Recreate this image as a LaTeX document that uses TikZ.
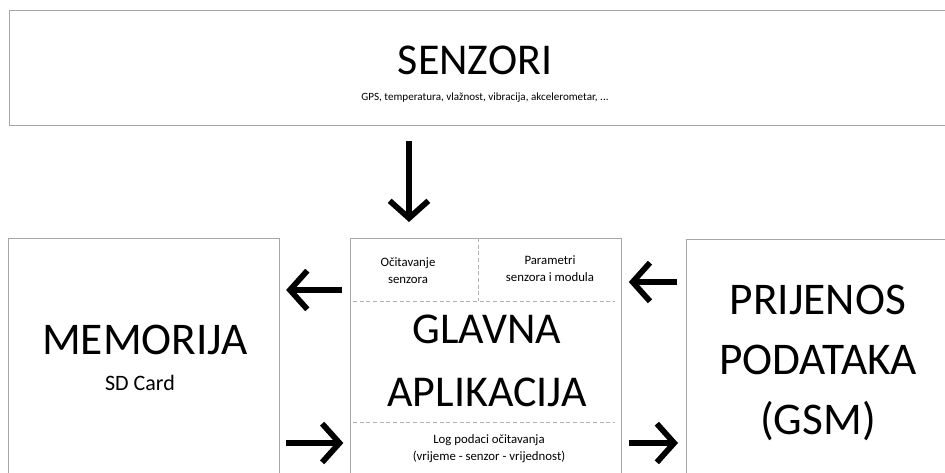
\documentclass[tikz,border=0pt]{standalone}
\usepackage{fontspec}
\setmainfont{Carlito}
\usetikzlibrary{positioning}
\usetikzlibrary{arrows.meta}
\tikzset{
    x=0.75pt, y=-0.75pt, % 1 unit = 1 pixel, y grows downwards
    blok/.style={ % Outer boxes
        draw=gray!70,
        line width=1.1pt,
        anchor=north west,
        inner sep=0pt
    },
    strelica/.style={ % Thick open arrows between boxes
        -{Straight Barb[length=13pt,width=29pt]},
        line width=4.3pt
    },
    crtkano/.style={ % Dividers inside the main box
        draw=gray!60,
        densely dashed,
        line width=0.6pt
    },
    naslov/.style={font=\fontsize{33}{47}\selectfont, align=center},
    sitno/.style={font=\fontsize{9.6}{12.8}\selectfont, align=center}
}
\begin{document}
\begin{tikzpicture}
            \clip (0,0) rectangle (945,473);
            \node[blok, minimum width=713pt, minimum height=86pt] (senzori) at (9,10) {};
            \node[blok, minimum width=203pt, minimum height=195pt] (memorija) at (8,238) {};
            \node[blok, minimum width=203pt, minimum height=195pt] (glavna) at (350,238) {};
            \node[blok, minimum width=210pt, minimum height=195pt] (prijenos) at (686,239) {};

            \node[naslov] (tsenzori) at (475,60) {SENZORI};
            \node[font=\fontsize{8.3}{10}\selectfont] (popis) at (485,98) {GPS, temperatura, vlažnost, vibracija, akcelerometar, ...};

            \node[naslov, font=\fontsize{34}{47}\selectfont] (tmemorija) at (145,340) {MEMORIJA};
            \node[font=\fontsize{16.5}{20}\selectfont] (sd) at (140,383) {SD Card};

            \node[naslov, font=\fontsize{34}{45}\selectfont] (tprijenos) at (818,363) {PRIJENOS\\PODATAKA\\(GSM)};

            \node[naslov] (tglavna) at (487,361) {GLAVNA\\APLIKACIJA};
            \node[sitno] (ocitavanje) at (408,271) {Očitavanje\\senzora};
            \node[sitno] (parametri) at (550,269) {Parametri\\senzora i modula};
            \node[sitno] (log) at (489,449) {Log podaci očitavanja\\(vrijeme - senzor - vrijednost)};

            \coordinate (gore) at (353,301);
            \coordinate (dolje) at (353,422);
            \draw[crtkano] (gore) -- (gore -| 615,0);
            \draw[crtkano] (dolje) -- (dolje -| 615,0);
            \draw[crtkano] (glavna.north -| 478,0) -- (gore -| 478,0);

            \draw[strelica, shorten <=11pt, shorten >=12pt] (senzori.south -| 409,0) -- (glavna.north -| 409,0);
            \draw[strelica, shorten <=6pt, shorten >=4.5pt] (glavna.west |- 0,290) -- (memorija.east |- 0,290);
            \draw[strelica, shorten <=4.5pt, shorten >=5pt] (memorija.east |- 0,443) -- (glavna.west |- 0,443);
            \draw[strelica, shorten <=7pt, shorten >=5pt] (prijenos.west |- 0,282) -- (glavna.east |- 0,282);
            \draw[strelica, shorten <=5pt, shorten >=6pt] (glavna.east |- 0,443) -- (prijenos.west |- 0,443);

        \end{tikzpicture}
\end{document}
